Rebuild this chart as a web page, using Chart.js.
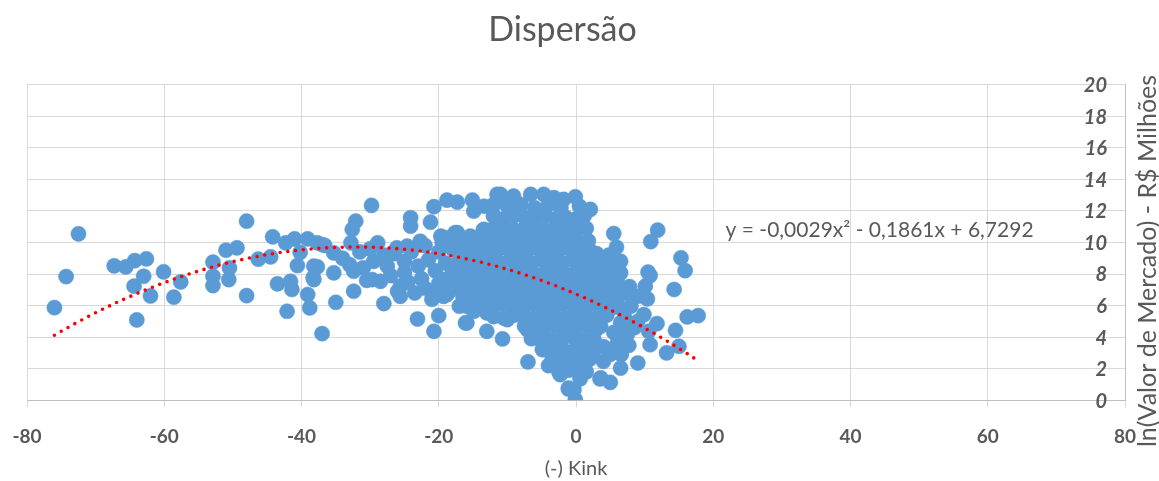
<!DOCTYPE html>
<html>
<head>
<meta charset="utf-8">
<script src="https://cdn.jsdelivr.net/npm/chart.js@4.4.1/dist/chart.umd.min.js"></script>
<style>
  html, body { margin: 0; padding: 0; background: #fff; }
  #wrap { width: 1159px; height: 481px; }
</style>
</head>
<body>
<div id="wrap"><canvas id="myChart"></canvas></div>
<script>
// points, [kink, ln(valor)]
const leftTail = [
  [-76.0,5.87],[-74.3,7.84],[-72.5,10.55],[-67.3,8.52],[-65.6,8.45],[-64.3,8.85],[-62.6,8.96],
  [-63.0,7.86],[-64.4,7.23],[-62.0,6.61],[-64.0,5.09],[-60.1,8.14],[-57.6,7.50],[-58.6,6.53],
  [-52.9,8.75],[-52.9,7.86],[-52.9,7.27],[-50.6,7.65],[-50.5,8.39],[-51.0,9.51],[-49.4,9.66],
  [-48.0,11.35],[-48.0,6.63],[-46.3,8.94],[-44.5,9.09],[-44.2,10.36],[-42.3,9.98],[-41.0,10.23],
  [-40.2,9.38],[-40.6,8.54],[-39.1,10.23],[-37.7,9.98],[-36.6,9.81],[-43.5,7.38],[-41.6,7.54],
  [-41.4,7.02],[-42.1,5.64],[-39.1,6.70],[-38.8,5.85],[-38.3,7.76],[-37.7,8.46],[-37.0,4.22],
  [-35.0,6.21],[-35.3,8.08]
];

const midBand = [
  [-29.8,12.35],[-32.1,11.35],[-32.6,10.83],[-37.0,9.87],[-32.8,9.98],[-28.9,9.98],[-35.3,9.34],
  [-38.2,8.50],[-32.4,8.18],[-38.2,7.65],[-29.7,7.65],[-28.5,7.54],[-32.4,6.91],[-28.0,6.13],
  [-24.1,11.57],[-24.1,11.04],[-21.2,11.29],[-20.7,12.27],[-18.8,12.69],[-17.3,12.56],[-15.1,12.69],
  [-14.9,11.99],[-26.1,9.66],[-24.6,9.77],[-22.7,10.08],[-19.7,10.40],[-17.6,10.62],[-25.6,7.23],
  [-25.6,6.59],[-20.7,6.70],[-18.8,6.70],[-23.1,5.15],[-20.0,5.36],[-20.7,4.37],[-16.1,4.90],
  [-17.0,5.96],[-14.9,5.64],[-13.0,5.54],
  [-34.0,9.0],[-33.0,8.6],[-31.5,9.4],[-31.0,8.4],[-30.0,9.6],[-30.5,7.6],[-29.5,8.8],[-28.0,9.2],
  [-27.5,8.5],[-27.0,7.9],[-26.5,9.3],[-26.0,6.9],[-25.0,8.8],[-25.0,8.1],[-24.5,7.5],[-24.0,9.4],
  [-23.5,6.8],[-23.0,8.5],[-22.5,7.7],[-22.0,9.8],[-22.0,7.1],[-21.5,8.9],[-21.0,6.4],[-20.5,8.2],
  [-20.0,9.4],[-20.0,7.4],[-19.5,10.0],[-19.0,8.7],[-18.5,6.9],[-18.0,9.6],[-18.0,8.0],[-17.5,7.3],
  [-17.0,10.2],[-17.0,8.9],[-16.5,6.6],[-16.0,9.3],[-16.0,7.9],[-15.5,7.1],[-15.0,10.0],[-15.0,8.5],
  [-14.5,6.3],[-14.5,9.1],[-14.0,7.6]
];

const mainCluster = [
  [-11.0,13.05],[-9.1,12.94],[-6.6,13.05],[-4.7,13.05],[-3.2,12.84],[-0.1,12.9],[-1.8,12.73],
  [-13.4,12.3],[-12.0,12.4],[-10.0,12.3],[-8.0,12.4],[-6.0,12.2],[-4.0,12.4],[-2.2,12.2],[0.5,12.3],[2.1,12.1],
  [-12.0,11.7],[-10.5,11.5],[-9.0,11.7],[-7.5,11.6],[-6.0,11.5],[-4.5,11.7],[-3.0,11.5],[-1.5,11.6],[0.0,11.5],[1.2,11.7],
  [-13.5,10.8],[-12.0,10.9],[-10.5,11.0],[-9.0,10.8],[-7.5,10.9],[-6.0,11.0],[-4.5,10.8],[-3.0,10.9],[-1.5,11.0],[0.0,10.8],[1.5,10.9],
  [-15.0,10.3],[-13.5,10.2],[-12.0,10.1],[-10.5,10.3],[-9.0,10.2],[-7.5,10.1],[-6.0,10.3],[-4.5,10.2],[-3.0,10.1],[-1.5,10.3],[0.0,10.2],[1.8,10.1],
  [-16.0,9.5],[-14.5,9.6],[-13.0,9.4],[-11.5,9.5],[-10.0,9.6],[-8.5,9.4],[-7.0,9.5],[-5.5,9.6],[-4.0,9.4],[-2.5,9.5],[-1.0,9.6],[0.5,9.4],[2.0,9.5],[3.0,9.3],
  [-17.0,8.8],[-15.5,8.7],[-14.0,8.9],[-12.5,8.8],[-11.0,8.7],[-9.5,8.9],[-8.0,8.8],[-6.5,8.7],[-5.0,8.9],[-3.5,8.8],[-2.0,8.7],[-0.5,8.9],[1.0,8.8],[2.5,8.7],[3.8,8.8],
  [-18.0,8.1],[-16.5,8.2],[-15.0,8.0],[-13.5,8.1],[-12.0,8.2],[-10.5,8.0],[-9.0,8.1],[-7.5,8.2],[-6.0,8.0],[-4.5,8.1],[-3.0,8.2],[-1.5,8.0],[0.0,8.1],[1.5,8.2],[3.0,8.0],[4.5,8.1],
  [-17.0,7.4],[-15.5,7.5],[-14.0,7.3],[-12.5,7.4],[-11.0,7.5],[-9.5,7.3],[-8.0,7.4],[-6.5,7.5],[-5.0,7.3],[-3.5,7.4],[-2.0,7.5],[-0.5,7.3],[1.0,7.4],[2.5,7.5],[4.0,7.3],[5.2,7.4],
  [-15.0,6.7],[-13.5,6.6],[-12.0,6.8],[-10.5,6.7],[-9.0,6.6],[-7.5,6.8],[-6.0,6.7],[-4.5,6.6],[-3.0,6.8],[-1.5,6.7],[0.0,6.6],[1.5,6.8],[3.0,6.7],[4.5,6.6],[5.5,6.8],
  [-14.0,6.0],[-12.5,5.9],[-11.0,6.1],[-9.5,6.0],[-8.0,5.9],[-6.5,6.1],[-5.0,6.0],[-3.5,5.9],[-2.0,6.1],[-0.5,6.0],[1.0,5.9],[2.5,6.1],[4.0,6.0],[5.5,5.9],
  [-12.0,5.3],[-10.5,5.2],[-9.0,5.4],[-7.5,5.3],[-6.0,5.2],[-4.5,5.4],[-3.0,5.3],[-1.5,5.2],[0.0,5.4],[1.5,5.3],[3.0,5.2],[4.5,5.4],
  [-7.5,4.7],[-6.0,4.5],[-4.5,4.6],[-3.0,4.7],[-1.5,4.5],[0.0,4.6],[1.5,4.7],[3.0,4.5],
  [-6.5,3.9],[-5.0,4.0],[-3.5,3.8],[-2.0,3.9],[-0.5,4.0],[1.0,3.8],[2.5,3.9],
  [-4.5,3.2],[-3.0,3.3],[-1.5,3.1],[0.0,3.2],[1.5,3.3],[2.5,3.1],
  [-3.5,2.5],[-2.0,2.6],[-0.5,2.4],[1.0,2.5],[2.0,2.6],
  [-2.5,1.8],[-1.0,1.9],[0.5,1.7],[1.5,1.8],
  [-18.8,10.30],[-17.3,10.62],[-15.4,10.40],[-13.4,10.83],[-19.3,7.65],[-19.3,6.59],[-17.3,7.65],
  [-15.9,5.96],[-15.9,4.90],[-13.0,4.37],[-10.7,3.89],[-5.2,3.84],[-12.0,11.67],[-13.0,10.62],
  [-7.0,2.43],[-4.0,2.19],[-1.1,0.71],[-0.1,0.03],[-4.9,3.21],[-2.3,1.62],[0.6,2.57],[-10.0,5.11],
  [-7.1,4.48],[-11.5,13.05]
];

const rightTail = [
  [5.5,10.57],[5.9,9.70],[11.9,10.78],[10.9,10.06],[15.3,9.03],[15.9,8.22],[4.0,8.86],[6.5,8.81],
  [6.5,8.08],[10.5,8.12],[10.8,7.90],[10.1,7.23],[14.3,7.02],[7.0,6.81],[9.0,6.59],[10.4,6.43],
  [8.0,5.96],[7.2,5.11],[9.9,5.43],[11.8,4.86],[16.2,5.28],[17.8,5.36],[14.5,4.43],[10.6,4.37],
  [10.8,3.52],[7.7,3.48],[6.6,2.89],[15.0,3.42],[13.2,3.00],[9.0,2.36],[6.5,2.04],[5.0,1.13],
  [3.5,1.35],[3.6,1.41],[-1.1,0.77],[-0.3,0.67],[0.6,1.35],[4.0,2.46],[2.6,3.84],[3.6,4.69],
  [5.0,7.0],[6.0,6.3],[7.0,5.6],[6.5,4.9],[5.5,4.3],[7.5,4.2],[6.0,3.6],[5.0,2.9],[4.0,3.4],
  [8.5,4.6],[9.0,5.0],[4.8,9.2],[5.2,8.3],[8.2,6.6],[6.0,7.6],[7.8,7.2]
];

// trendline as printed on the chart (polynomial, order 2)
const trendCoefs = [-0.0029, -0.1861, 6.7292];
const trendRange = [-76, 18];
const equationText = 'y = -0,0029x\u00b2 - 0,1861x + 6,7292';
const equationPos = [21.8, 10.8];

const xTicks = [-80, 80, 20];
const yTicks = [0, 20, 2];
const yTickLabels = ['0', '2', '4', '6', '8', '10', '12', '14', '16', '18', '20'];
const chartTitle = 'Dispersão';
const xTitle = '(-) Kink';
const yTitle = 'ln(Valor de Mercado) - R$ Milhões';

const textColor = '#595959';
const fontName = 'Lato';

function toPoints(list) {
  return list.map(p => ({ x: p[0], y: p[1] }));
}

function trendPoints() {
  let pts = [];
  for (let x = trendRange[0]; x <= trendRange[1]; x++) {
    pts.push({ x: x, y: trendCoefs[0] * x * x + trendCoefs[1] * x + trendCoefs[2] });
  }
  return pts;
}

// y labels sit left of the axis line (axis crosses at x = 80), title reads bottom-up
const extraText = {
  id: 'extraText',
  afterDraw(chart) {
    const ctx = chart.ctx;
    const xs = chart.scales.x;
    const ys = chart.scales.y;
    ctx.save();
    ctx.fillStyle = textColor;

    ctx.font = 'italic bold 20px ' + fontName;
    ctx.textAlign = 'right';
    ctx.textBaseline = 'middle';
    for (let i = 0; i < yTickLabels.length; i++) {
      const v = yTicks[0] + i * yTicks[2];
      ctx.fillText(yTickLabels[i], ys.right - 18, ys.getPixelForValue(v) + 1);
    }

    ctx.font = '21px ' + fontName;
    ctx.textAlign = 'left';
    ctx.fillText(equationText, xs.getPixelForValue(equationPos[0]), ys.getPixelForValue(equationPos[1]));

    ctx.font = '25px ' + fontName;
    ctx.translate(1148, 261);
    ctx.rotate(-Math.PI / 2);
    ctx.textAlign = 'center';
    ctx.fillText(yTitle, 0, 0);
    ctx.restore();
  }
};

document.addEventListener('DOMContentLoaded', function() {
  const ctx = document.getElementById('myChart').getContext('2d');
  const allPoints = leftTail.concat(midBand, mainCluster, rightTail);

  new Chart(ctx, {
    type: 'scatter',
    data: {
      datasets: [
        {
          label: 'Tendência',
          data: trendPoints(),
          showLine: true,
          borderColor: '#FF0000',
          borderWidth: 3.6,
          borderDash: [0, 7.8],
          borderCapStyle: 'round',
          pointRadius: 0,
          fill: false,
          tension: 0
        },
        {
          label: 'Dispersão',
          data: toPoints(allPoints),
          backgroundColor: '#5B9BD5',
          borderColor: '#5B9BD5',
          borderWidth: 0.5,
          pointRadius: 7.6
        }
      ]
    },
    options: {
      responsive: true,
      maintainAspectRatio: false,
      animation: false,
      events: [],
      layout: { padding: { left: 0, right: 34, top: 0, bottom: 0 } },
      plugins: {
        legend: { display: false },
        tooltip: { enabled: false },
        title: {
          display: true,
          text: chartTitle,
          color: textColor,
          font: { family: fontName, size: 34, weight: 'normal' },
          padding: { top: 10, bottom: 34 }
        }
      },
      scales: {
        x: {
          type: 'linear',
          min: xTicks[0],
          max: xTicks[1],
          afterFit: function(scale) {
            scale.paddingLeft = 27;
          },
          ticks: {
            stepSize: xTicks[2],
            color: textColor,
            font: { family: fontName, size: 19, weight: 'bold' },
            padding: 18
          },
          grid: { color: '#D9D9D9', lineWidth: 1, tickLength: 7 },
          border: { color: '#BFBFBF' },
          title: {
            display: true,
            text: xTitle,
            color: textColor,
            font: { family: fontName, size: 20 },
            padding: { top: -9, bottom: 0 }
          }
        },
        y: {
          position: 'right',
          min: yTicks[0],
          max: yTicks[1],
          ticks: { stepSize: yTicks[2], display: false },
          grid: { color: '#D9D9D9', lineWidth: 1, drawTicks: false },
          border: { color: '#BFBFBF' }
        }
      }
    },
    plugins: [extraText]
  });
});
</script>
</body>
</html>
